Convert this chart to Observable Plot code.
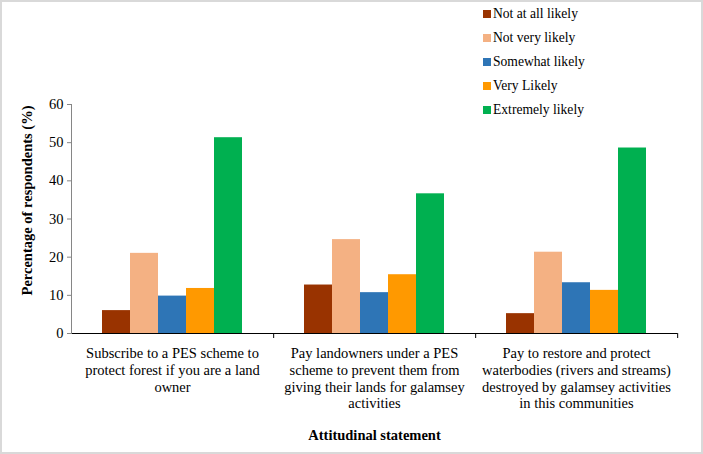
<!DOCTYPE html>
<html><head><meta charset="utf-8">
<script src="https://cdn.jsdelivr.net/npm/d3@7"></script>
<script src="https://cdn.jsdelivr.net/npm/@observablehq/plot@0.6"></script>
<style>
html,body{margin:0;padding:0;background:#fff;}
#wrap{position:relative;width:703px;height:454px;overflow:hidden;font-family:"Liberation Serif","Times New Roman",serif;}
#border{position:absolute;left:0;top:0;width:703px;height:454px;box-sizing:border-box;border:2px solid #d9d9d9;pointer-events:none;}
#legend{position:absolute;left:483px;top:2px;}
.row{display:flex;align-items:center;height:24px;font-size:13.6px;color:#000;white-space:nowrap;}
.sw{width:8px;height:8px;margin-right:2px;}
svg{display:block;}
</style></head>
<body>
<div id="wrap"><div id="chart"></div><div id="legend"></div><div id="border"></div></div>
<script>
const categories = [
  "Subscribe to a PES scheme to protect forest if you are a land owner",
  "Pay landowners under a PES scheme to prevent them from giving their lands for galamsey activities",
  "Pay to restore and protect waterbodies (rivers and streams) destroyed by galamsey activities in this communities"
];
const categoryLabels = [
  "Subscribe to a PES scheme to\nprotect forest if you are a land\nowner",
  "Pay landowners under a PES\nscheme to prevent them from\ngiving their lands for galamsey\nactivities",
  "Pay to restore and protect\nwaterbodies (rivers and streams)\ndestroyed by galamsey activities\nin this communities"
];
const levels = ["Not at all likely", "Not very likely", "Somewhat likely", "Very Likely", "Extremely likely"];
const notAtAll = [6.0, 12.7, 5.2];
const notVery = [21.0, 24.6, 21.3];
const somewhat = [9.8, 10.7, 13.3];
const veryLikely = [11.8, 15.4, 11.3];
const extremely = [51.3, 36.6, 48.6];
const colors = ["#993300", "#F4B183", "#2E75B6", "#FF9900", "#00B050"];
const yTicks = [0, 10, 20, 30, 40, 50, 60];
const yTitle = "Percentage of respondents (%)";
const xTitle = "Attitudinal statement";

const series = [notAtAll, notVery, somewhat, veryLikely, extremely];
const table = categories.flatMap((c, i) => levels.map((l, j) => ({category: c, level: l, value: series[j][i]})));

const W = 703, H = 454, ML = 70, MR = 26, MT = 104, MB = 121;
const facetW = (W - ML - MR) / categories.length;

const chart = Plot.plot({
  width: W, height: H,
  marginTop: MT, marginBottom: MB, marginLeft: ML, marginRight: MR,
  style: {fontFamily: "'Liberation Serif', 'Times New Roman', serif", fontSize: "14.5px", color: "#000", background: "white", overflow: "visible"},
  fx: {domain: categories, padding: 0, label: null, axis: null},
  x: {domain: levels, paddingInner: 0, paddingOuter: 1.09, axis: null},
  y: {domain: [0, 60], axis: null},
  color: {domain: levels, range: colors},
  marks: [
    Plot.barY(table, {fx: "category", x: "level", y: "value", fill: "level", insetLeft: 0, insetRight: 0}),
    Plot.ruleY([0], {stroke: "#000", strokeWidth: 1}),
    Plot.frame({anchor: "left", facetAnchor: "left", stroke: "#868686"}),
    Plot.axisY({ticks: yTicks, tickSize: 4, tickPadding: 4, stroke: "#868686", fill: "#000", label: null, fontSize: 14.5}),
    Plot.text([yTitle], {frameAnchor: "left", facetAnchor: "left", rotate: -90, dx: -44, dy: -18.5, textAnchor: "middle", lineAnchor: "middle", fontWeight: "bold", fontSize: 14.5, fill: "#000"}),
    Plot.axisFx({anchor: "bottom", tickSize: 5, tickFormat: () => "", dx: facetW / 2, stroke: "#000", label: null}),
    Plot.axisFx({anchor: "bottom", tickSize: 0, tickPadding: 13, tickFormat: d => categoryLabels[categories.indexOf(d)], fontSize: 14.5, lineHeight: 1.15, label: null}),
    Plot.axisFx({anchor: "bottom", tickSize: 0, tickFormat: () => "", label: xTitle, labelAnchor: "center", labelOffset: 106, labelArrow: "none", fontWeight: "bold", fontSize: 14.5})
  ]
});
document.getElementById("chart").appendChild(chart);

const legend = document.getElementById("legend");
levels.forEach((l, i) => {
  const row = document.createElement("div");
  row.className = "row";
  const sw = document.createElement("span");
  sw.className = "sw";
  sw.style.background = colors[i];
  const t = document.createElement("span");
  t.textContent = l;
  row.appendChild(sw); row.appendChild(t);
  legend.appendChild(row);
});
</script>
</body></html>
